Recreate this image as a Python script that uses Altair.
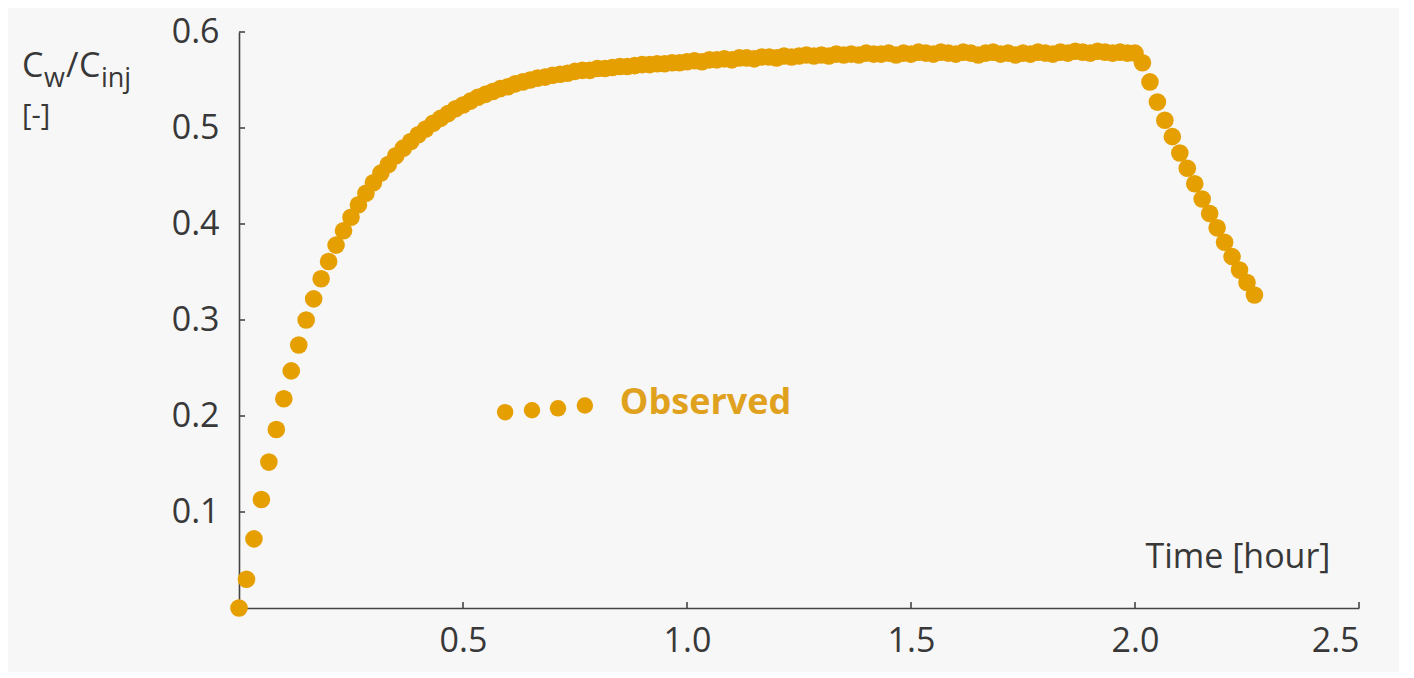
import altair as alt
import pandas as pd

# ---- data ----
minutes = [
    0, 1, 2, 3, 4, 5, 6, 7, 8, 9, 10, 11, 12, 13, 14, 15, 16, 17, 18, 19,
    20, 21, 22, 23, 24, 25, 26, 27, 28, 29, 30, 31, 32, 33, 34, 35, 36, 37, 38, 39,
    40, 41, 42, 43, 44, 45, 46, 47, 48, 49, 50, 51, 52, 53, 54, 55, 56, 57, 58, 59,
    60, 61, 62, 63, 64, 65, 66, 67, 68, 69, 70, 71, 72, 73, 74, 75, 76, 77, 78, 79,
    80, 81, 82, 83, 84, 85, 86, 87, 88, 89, 90, 91, 92, 93, 94, 95, 96, 97, 98, 99,
    100, 101, 102, 103, 104, 105, 106, 107, 108, 109, 110, 111, 112, 113, 114, 115, 116, 117, 118, 119,
    120, 121, 122, 123, 124, 125, 126, 127, 128, 129, 130, 131, 132, 133, 134, 135, 136,
]
ratio = [
    0.000, 0.030, 0.072, 0.113, 0.152, 0.186, 0.218, 0.247, 0.274, 0.300,
    0.322, 0.343, 0.361, 0.378, 0.393, 0.407, 0.420, 0.432, 0.443, 0.453,
    0.462, 0.471, 0.479, 0.486, 0.493, 0.499, 0.505, 0.510, 0.515, 0.520,
    0.524, 0.528, 0.532, 0.535, 0.538, 0.541, 0.543, 0.546, 0.548, 0.550,
    0.552, 0.553, 0.555, 0.556, 0.557, 0.559, 0.560, 0.560, 0.562, 0.562,
    0.563, 0.564, 0.564, 0.565, 0.566, 0.566, 0.567, 0.567, 0.568, 0.568,
    0.569, 0.570, 0.569, 0.571, 0.571, 0.572, 0.571, 0.573, 0.573, 0.572,
    0.574, 0.574, 0.573, 0.575, 0.574, 0.575, 0.576, 0.575, 0.576, 0.575,
    0.577, 0.576, 0.577, 0.576, 0.578, 0.577, 0.577, 0.578, 0.576, 0.578,
    0.577, 0.579, 0.578, 0.577, 0.579, 0.578, 0.577, 0.579, 0.578, 0.576,
    0.578, 0.579, 0.577, 0.578, 0.576, 0.578, 0.577, 0.579, 0.578, 0.577,
    0.579, 0.578, 0.580, 0.579, 0.578, 0.580, 0.579, 0.578, 0.579, 0.578,
    0.578, 0.568, 0.548, 0.527, 0.508, 0.491, 0.474, 0.458, 0.442, 0.426,
    0.411, 0.396, 0.381, 0.366, 0.352, 0.339, 0.326,
]

x_ticks = [0.5, 1.0, 1.5, 2.0, 2.5]
y_ticks = [0.1, 0.2, 0.3, 0.4, 0.5, 0.6]

legend_x = [0.594, 0.654, 0.712, 0.772]
legend_y = [0.204, 0.206, 0.208, 0.211]
legend_label = "Observed"
legend_label_x = 0.850
legend_label_y = 0.2135

x_title = "Time [hour]"

# ---- styling ----
W, H = 1120, 576
DOT = "#E69F00"
TXT = "#383838"
AX = "#444444"
FONT = "Open Sans"

df = pd.DataFrame({"hour": [m / 60 for m in minutes], "ratio": ratio})
leg_df = pd.DataFrame({"x": legend_x, "y": legend_y})
xt_df = pd.DataFrame({"v": x_ticks})
yt_df = pd.DataFrame({"v": y_ticks})
lab_df = pd.DataFrame({"x": [legend_label_x], "y": [legend_label_y], "t": [legend_label]})

xs = alt.Scale(domain=[0, 2.5], nice=False, zero=True)
ys = alt.Scale(domain=[0, 0.6], nice=False, zero=True)

x_axis = alt.Axis(values=x_ticks, format=".1f", ticks=False, grid=False,
                  domainColor=AX, domainWidth=1.6,
                  labelFont=FONT, labelFontSize=34, labelColor=TXT,
                  labelPadding=16,
                  title=x_title, titleFont=FONT, titleFontSize=34,
                  titleFontWeight="normal", titleColor=TXT,
                  titleX=1091, titleY=-41, titleAlign="right",
                  titleBaseline="alphabetic")
y_axis = alt.Axis(values=y_ticks, format=".1f", ticks=False, grid=False,
                  domainColor=AX, domainWidth=1.6,
                  labelFont=FONT, labelFontSize=34, labelColor=TXT,
                  labelPadding=20, title=None)

points = alt.Chart(df).mark_circle(size=310, opacity=1, color=DOT).encode(
    x=alt.X("hour:Q", scale=xs, axis=x_axis),
    y=alt.Y("ratio:Q", scale=ys, axis=y_axis),
)

xtick_marks = alt.Chart(xt_df).mark_rule(color=AX, strokeWidth=1.6).encode(
    x=alt.X("v:Q", scale=xs, axis=x_axis),
    y=alt.value(H), y2=alt.value(H - 6),
)
ytick_marks = alt.Chart(yt_df).mark_rule(color=AX, strokeWidth=1.6).encode(
    y=alt.Y("v:Q", scale=ys, axis=y_axis),
    x=alt.value(0), x2=alt.value(6),
)

leg_dots = alt.Chart(leg_df).mark_circle(size=270, opacity=1, color=DOT).encode(
    x=alt.X("x:Q", scale=xs, axis=x_axis),
    y=alt.Y("y:Q", scale=ys, axis=y_axis),
)
leg_text = alt.Chart(lab_df).mark_text(
    align="left", baseline="middle", font=FONT, fontSize=36,
    fontWeight="bold", color="#E0A21E",
).encode(
    x=alt.X("x:Q", scale=xs, axis=x_axis),
    y=alt.Y("y:Q", scale=ys, axis=y_axis),
    text="t:N",
)

# y-axis title with subscripts: C_w / C_inj  [-]
one = pd.DataFrame({"a": [0]})
def piece(text, x, y, size):
    return alt.Chart(one).mark_text(
        align="left", baseline="alphabetic", font=FONT, fontSize=size, color=TXT
    ).encode(x=alt.value(x), y=alt.value(y), text=alt.value(text))

ytitle = (
    piece("C", -217, 45, 34)
    + piece("w", -195, 55, 27)
    + piece("/", -173, 45, 34)
    + piece("C", -160, 45, 34)
    + piece("inj", -138, 55, 27)
    + piece("[-]", -217, 93, 29)
)

chart = alt.layer(
    points, xtick_marks, ytick_marks, leg_dots, leg_text, ytitle
).properties(
    width=W, height=H,
    autosize=alt.AutoSizeParams(type="none"),
    padding={"left": 231, "top": 24, "right": 40, "bottom": 64},
    background="#F7F7F7",
).configure_view(stroke=None)

chart.save("out.html", embed_options={"renderer": "svg", "actions": False})
